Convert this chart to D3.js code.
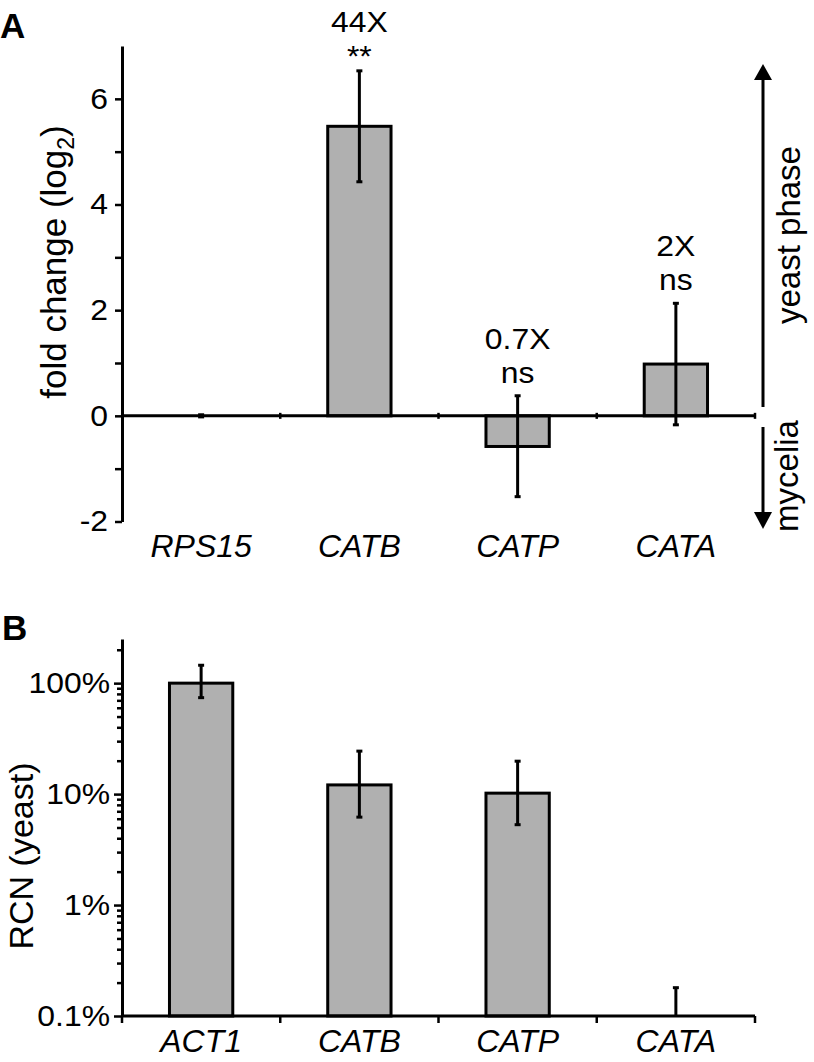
<!DOCTYPE html>
<html><head><meta charset="utf-8">
<script src="https://cdn.jsdelivr.net/npm/d3@7"></script>
<style>
body{margin:0;background:#fff}
svg{display:block}
text{font-family:"Liberation Sans",Arial,Helvetica,sans-serif;fill:#000}
</style>
</head><body>
<svg id="c" width="814" height="1062"></svg>
<script>
// ---------- Panel A data ----------
const genesA = ["RPS15", "CATB", "CATP", "CATA"];
const foldA = [0, 5.48, -0.58, 0.98];
const errLoA = [-0.02, 4.43, -1.53, -0.17];
const errHiA = [0.02, 6.53, 0.38, 2.13];
const ratioLabelsA = ["", "44X", "0.7X", "2X"];
const sigLabelsA = ["", "**", "ns", "ns"];
const ticksA = [-2, -1, 0, 1, 2, 3, 4, 5, 6];

// ---------- Panel B data ----------
const genesB = ["ACT1", "CATB", "CATP", "CATA"];
const rcnB = [100, 12.1, 10.2, 0.1];
const errLoB = [74, 6.2, 5.3, 0.1];
const errHiB = [145, 24.4, 19.8, 0.18];
const majorTicksB = [0.1, 1, 10, 100];
const tickLabelsB = ["0.1%", "1%", "10%", "100%"];

const svg = d3.select("#c");
const BAR_FILL = "#b0b0b0";
const SW = 3;
const TFS = 29, SX = 1.1;   // tick/annotation font size and horizontal stretch

function wideText(g, x, y, str) {
  return g.append("text")
    .attr("transform", `translate(${x},${y}) scale(${SX},1)`)
    .attr("text-anchor", "middle").attr("font-size", TFS).text(str);
}

function errorBars(g, x, y, lo, hi, base, cats) {
  cats.forEach((c, i) => {
    const cx = x(c) + x.bandwidth() / 2;
    g.append("line").attr("x1", cx).attr("x2", cx)
      .attr("y1", y(lo[i])).attr("y2", y(hi[i]))
      .attr("stroke", "#000").attr("stroke-width", SW);
    g.append("line").attr("x1", cx - 3).attr("x2", cx + 3)
      .attr("y1", y(hi[i])).attr("y2", y(hi[i]))
      .attr("stroke", "#000").attr("stroke-width", SW);
    if (lo[i] !== base) {
      g.append("line").attr("x1", cx - 3).attr("x2", cx + 3)
        .attr("y1", y(lo[i])).attr("y2", y(lo[i]))
        .attr("stroke", "#000").attr("stroke-width", SW);
    }
  });
}

// ================= Panel A =================
const L = 122, R = 755;
const xA = d3.scaleBand(genesA, [L, R]).paddingInner(0.6).paddingOuter(0.3);
const yA = d3.scaleLinear([-2, 7], [521.5, 46]);
const gA = svg.append("g");

gA.selectAll("rect.bar").data(genesA).join("rect")
  .attr("x", d => xA(d))
  .attr("width", xA.bandwidth())
  .attr("y", (d, i) => yA(Math.max(0, foldA[i])))
  .attr("height", (d, i) => Math.abs(yA(foldA[i]) - yA(0)))
  .attr("fill", BAR_FILL)
  .attr("stroke", (d, i) => foldA[i] === 0 ? "none" : "#000")
  .attr("stroke-width", SW);

gA.append("line").attr("x1", L).attr("x2", R)
  .attr("y1", yA(0)).attr("y2", yA(0))
  .attr("stroke", "#000").attr("stroke-width", SW);
for (let i = 1; i <= genesA.length; i++) {
  const bx = L + i * xA.step();
  gA.append("line").attr("x1", bx).attr("x2", bx)
    .attr("y1", yA(0) - 3).attr("y2", yA(0) + 3)
    .attr("stroke", "#000").attr("stroke-width", 2.5);
}

errorBars(gA, xA, yA, errLoA, errHiA, null, genesA);

const axA = gA.append("g").attr("transform", `translate(${L},0)`)
  .call(d3.axisLeft(yA).tickValues(ticksA).tickSize(7).tickSizeOuter(0).tickPadding(6)
    .tickFormat(d => d % 2 === 0 ? String(d) : ""));
axA.select(".domain").attr("stroke-width", SW);
axA.selectAll(".tick line").attr("stroke-width", 2.5);
axA.selectAll(".tick text").attr("font-size", TFS).attr("font-family", null)
  .attr("x", -14 / SX).attr("transform", `scale(${SX},1)`);

gA.selectAll("text.cat").data(genesA).join("text")
  .attr("x", d => xA(d) + xA.bandwidth() / 2)
  .attr("y", 557)
  .attr("text-anchor", "middle")
  .attr("font-size", 32).attr("font-style", "italic")
  .text(d => d);

genesA.forEach((g, i) => {
  if (!ratioLabelsA[i]) return;
  const cx = xA(g) + xA.bandwidth() / 2;
  const ly = Math.max(yA(errHiA[i]) - 47, 32);
  wideText(gA, cx, ly, ratioLabelsA[i]);
  wideText(gA, cx, ly + 34, sigLabelsA[i]);
});

const tA = gA.append("text")
  .attr("transform", "translate(66,262) rotate(-90)")
  .attr("text-anchor", "middle").attr("font-size", 35);
tA.append("tspan").text("fold change (log");
tA.append("tspan").attr("font-size", 23).attr("dy", 8).text("2");
tA.append("tspan").attr("dy", -8).text(")");

const AX = 763;
gA.append("line").attr("x1", AX).attr("x2", AX).attr("y1", 407).attr("y2", 78)
  .attr("stroke", "#000").attr("stroke-width", SW);
gA.append("path").attr("d", `M${AX - 9},80 L${AX + 9},80 L${AX},64 Z`).attr("fill", "#000");
gA.append("line").attr("x1", AX).attr("x2", AX).attr("y1", 427).attr("y2", 514)
  .attr("stroke", "#000").attr("stroke-width", SW);
gA.append("path").attr("d", `M${AX - 9},512 L${AX + 9},512 L${AX},529 Z`).attr("fill", "#000");
gA.append("text").attr("transform", "translate(800,235) rotate(-90)")
  .attr("text-anchor", "middle").attr("font-size", 33).text("yeast phase");
gA.append("text").attr("transform", "translate(798,476) rotate(-90)")
  .attr("text-anchor", "middle").attr("font-size", 33).text("mycelia");

svg.append("text").attr("x", 0).attr("y", 38).attr("font-size", 35)
  .attr("font-weight", "bold").text("A");

// ================= Panel B =================
const xB = d3.scaleBand(genesB, [L, R]).paddingInner(0.6).paddingOuter(0.3);
const yB = d3.scaleLog([0.1, 250], [1016, 639]);
const gB = svg.append("g");
const baseB = 0.1;

gB.selectAll("rect.bar").data(genesB).join("rect")
  .attr("x", d => xB(d))
  .attr("width", xB.bandwidth())
  .attr("y", (d, i) => yB(rcnB[i]))
  .attr("height", (d, i) => yB(baseB) - yB(rcnB[i]))
  .attr("fill", BAR_FILL)
  .attr("stroke", (d, i) => rcnB[i] <= baseB ? "none" : "#000")
  .attr("stroke-width", SW);

errorBars(gB, xB, yB, errLoB, errHiB, baseB, genesB);

gB.append("line").attr("x1", L).attr("x2", R)
  .attr("y1", yB(baseB)).attr("y2", yB(baseB))
  .attr("stroke", "#000").attr("stroke-width", SW);
for (let i = 0; i <= genesB.length; i++) {
  const bx = L + i * xB.step();
  gB.append("line").attr("x1", bx).attr("x2", bx)
    .attr("y1", yB(baseB)).attr("y2", yB(baseB) + 7)
    .attr("stroke", "#000").attr("stroke-width", 2.5);
}

const minorB = [];
majorTicksB.forEach(m => { for (let k = 2; k <= 9; k++) if (m * k <= 250) minorB.push(m * k); });
const axBm = gB.append("g").attr("transform", `translate(${L},0)`)
  .call(d3.axisLeft(yB).tickValues(minorB).tickSize(5).tickSizeOuter(0).tickFormat(""));
axBm.select(".domain").remove();
axBm.selectAll(".tick line").attr("stroke-width", 2.5);

const axB = gB.append("g").attr("transform", `translate(${L},0)`)
  .call(d3.axisLeft(yB).tickValues(majorTicksB).tickSize(8).tickSizeOuter(0).tickPadding(5)
    .tickFormat((d, i) => tickLabelsB[i]));
axB.select(".domain").attr("stroke-width", SW);
axB.selectAll(".tick line").attr("stroke-width", 2.5);
axB.selectAll(".tick text").attr("font-size", TFS).attr("font-family", null)
  .attr("x", -12 / SX).attr("transform", `scale(${SX},1)`);

gB.selectAll("text.cat").data(genesB).join("text")
  .attr("x", d => xB(d) + xB.bandwidth() / 2)
  .attr("y", 1052)
  .attr("text-anchor", "middle")
  .attr("font-size", 32).attr("font-style", "italic")
  .text(d => d);

gB.append("text").attr("transform", "translate(33,856) rotate(-90)")
  .attr("text-anchor", "middle").attr("font-size", 34).text("RCN (yeast)");

svg.append("text").attr("x", 2).attr("y", 640).attr("font-size", 35)
  .attr("font-weight", "bold").text("B");
</script>
</body></html>
